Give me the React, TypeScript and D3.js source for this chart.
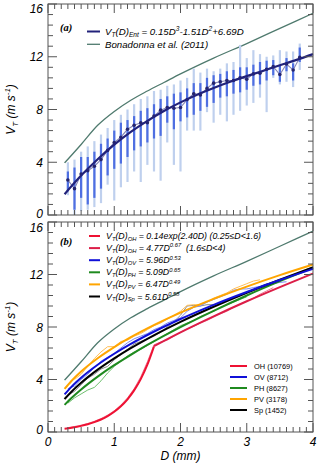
import React from "react";
import * as d3 from "d3";

// ---------- Panel (a) data ----------
const binD = [0.3,0.4,0.5,0.6,0.7,0.8,0.9,1.0,1.1,1.2,1.3,1.4,1.5,1.6,1.7,1.8,1.9,2.0,2.1,2.2,2.3,2.4,2.5,2.6,2.7,2.8,2.9,3.0,3.1,3.2,3.3,3.4,3.5,3.6,3.7,3.8];
const entMean = [2.65,2.0,3.1,3.35,3.7,4.2,4.9,5.5,5.9,6.5,6.8,7.0,7.0,7.5,7.95,8.15,8.1,8.15,8.75,9.2,9.1,9.6,10.0,10.1,10.2,10.2,10.4,10.3,10.7,10.75,11.05,11.25,10.65,11.45,11.0,11.95];
const entInnerLo = [1.8,0.4,1.3,0.8,1.3,2.0,3.0,3.5,3.9,4.4,4.9,5.2,5.5,5.8,6.0,7.0,6.5,7.1,7.4,7.6,7.9,8.2,8.5,8.9,9.0,9.2,9.3,9.5,9.8,9.9,10.2,10.6,10.1,10.9,10.2,11.6];
const entInnerHi = [3.3,3.6,4.4,4.4,4.8,5.4,5.8,6.4,7.0,7.2,7.5,7.9,8.1,8.4,8.8,9.0,9.2,9.3,9.6,10.0,10.0,10.4,10.6,10.7,10.9,11.0,11.2,11.2,11.4,11.6,11.7,11.75,11.3,11.9,11.5,12.7];
const entOuterLo = [1.5,0.0,0.3,0.4,0.6,0.9,2.3,1.1,2.1,2.5,3.3,2.5,3.8,3.3,2.6,5.5,3.8,3.3,6.4,6.4,6.4,7.8,7.0,7.6,7.1,7.6,7.9,8.3,8.5,8.9,7.8,10.4,9.9,10.1,9.7,11.0];
const entOuterHi = [4.0,4.2,4.8,5.2,5.6,6.1,6.6,7.2,7.6,8.0,8.4,8.8,9.0,9.4,9.5,9.8,9.9,10.2,10.4,11.1,10.8,11.1,10.9,11.1,11.5,11.6,12.9,11.9,12.5,12.2,12.0,12.1,12.5,12.4,12.4,13.0];

const fitEntD = [0.25,0.5,0.75,1.0,1.25,1.5,1.75,2.0,2.25,2.5,2.75,3.0,3.25,3.5,3.75,4.0];
const fitEntV = [1.58,2.99,4.23,5.33,6.30,7.14,7.89,8.54,9.12,9.63,10.10,10.53,10.94,11.35,11.76,12.20];

const bonD = [0.25,0.5,0.75,1.0,1.25,1.5,1.75,2.0,2.5,3.0,3.5,4.0];
const bonV = [3.95,5.35,6.8,7.85,8.7,9.4,10.05,10.7,11.9,13.0,14.15,15.3];

// ---------- Panel (b) data ----------
const powD = [0.25,0.35,0.5,0.75,1.0,1.25,1.5,2.0,2.5,3.0,3.5,4.0];
const fitOV = [2.86,3.42,4.13,5.12,5.96,6.71,7.39,8.61,9.69,10.67,11.58,12.43];
const fitPH = [2.07,2.57,3.24,4.22,5.09,5.88,6.63,7.99,9.23,10.40,11.49,12.53];
const fitPV = [3.28,3.87,4.61,5.62,6.47,7.22,7.89,9.09,10.14,11.08,11.95,12.76];
const fitSp = [2.51,3.05,3.75,4.75,5.61,6.39,7.10,8.39,9.54,10.61,11.60,12.54];
const ohExpD = [0.25,0.4,0.5,0.6,0.7,0.8,0.9,1.0,1.1,1.2,1.3,1.4,1.5,1.6];
const ohExpV = [0.255,0.366,0.465,0.591,0.751,0.955,1.214,1.543,1.962,2.494,3.171,4.031,5.124,6.514];
const ohPowD = [1.6,2.0,2.5,3.0,3.5,4.0];
const ohPowV = [6.54,7.59,8.81,9.96,11.04,12.08];

const ohDataD = [0.3,0.4,0.5,0.6,0.7,0.8,0.9,1.0,1.1,1.2,1.3,1.4,1.5,1.6,1.7,1.8,1.9,2.0,2.1,2.2,2.3,2.4,2.5,2.6,2.7,2.8,2.9,3.0,3.1,3.2,3.3,3.4];
const ohDataV = [0.33,0.42,0.52,0.65,0.82,1.02,1.29,1.62,2.05,2.6,3.3,4.2,5.35,6.65,6.85,7.0,7.3,7.6,7.85,8.05,8.3,8.5,8.75,9.0,9.2,9.5,9.75,9.95,10.2,10.5,10.75,11.0];
const ovDataD = [0.3,0.4,0.5,0.6,0.7,0.8,0.9,1.0,1.1,1.2,1.3,1.4,1.5,1.6,1.7,1.8,1.9,2.0,2.1,2.2,2.3,2.4,2.5,2.6,2.7,2.8,2.9,3.0,3.1,3.2,3.3,3.4,3.5,3.6];
const ovDataV = [3.3,3.5,4.0,4.4,4.9,5.4,5.7,6.0,6.4,6.8,7.1,7.3,7.5,7.8,8.0,8.3,8.5,8.7,9.2,9.5,9.6,9.9,10.1,10.3,10.5,10.8,10.9,10.9,11.0,11.1,11.3,11.3,11.4,11.45];
const pvDataD = [0.4,0.5,0.6,0.7,0.8,0.9,1.0,1.1,1.2,1.3,1.4,1.5,1.6,1.7,1.8,1.9,2.0,2.1,2.2,2.3,2.4,2.5,2.6,2.7,2.8,2.9,3.0,3.1,3.2];
const pvDataV = [4.0,4.4,5.0,5.6,6.1,6.5,6.5,6.9,7.0,7.3,7.5,7.8,8.1,8.3,8.6,8.9,9.2,9.65,9.7,9.7,9.9,10.2,10.4,10.6,10.9,11.1,11.3,11.5,11.6];
const phDataD = [0.3,0.4,0.5,0.6,0.7,0.8,0.9,1.0,1.1,1.2,1.3,1.4,1.5,1.6,1.7,1.8,1.9,2.0,2.1,2.2,2.3,2.4,2.5,2.6,2.7,2.8,2.9,3.0];
const phDataV = [2.2,2.6,2.9,3.2,3.4,3.9,4.5,5.0,5.4,5.8,6.1,6.3,6.6,6.9,7.2,7.5,7.8,8.1,8.3,8.5,8.8,9.0,9.2,9.5,9.7,9.9,10.1,10.3];
const spDataD = [0.3,0.4,0.5,0.6,0.7,0.8,0.9,1.0,1.1,1.2,1.3,1.4,1.5,1.6,1.7,1.8,1.9,2.0,2.1,2.2,2.3,2.4,2.5];
const spDataV = [2.8,3.1,3.6,4.1,4.4,4.8,5.0,5.5,5.9,6.3,6.7,6.9,7.1,7.3,7.6,8.0,8.4,8.9,9.6,9.65,9.6,9.7,9.7];

const xTickLabels = ["0","1","2","3","4"];
const yTickLabels = ["0","4","8","12","16"];
const classNames = ["OH (10769)","OV (8712)","PH (8627)","PV (3178)","Sp (1452)"];
const classColors = ["#ee1133","#1010d8","#1f8a1f","#ffa500","#000000"];

const SANS = "'Liberation Sans', Arial, Helvetica, sans-serif";
const FRAME = "#555";
const BON = "#4f7a6e";

type Part = [string, "n" | "sub" | "sup"];

function Rich({ x, y, parts, size, italic = true, anchor = "start", transform, small = 0.66, subShift = 0.28 }: any) {
  let cur = 0;
  return (
    <text x={x} y={y} fontSize={size} fontFamily={SANS} fontStyle={italic ? "italic" : "normal"}
      textAnchor={anchor} transform={transform} style={{ whiteSpace: "pre" }} fill="#000">
      {(parts as Part[]).map(([t, k], i) => {
        const target = k === "sub" ? size * subShift : k === "sup" ? -size * 0.42 : 0;
        const dy = target - cur;
        cur = target;
        return (
          <tspan key={i} dy={dy} fontSize={k === "n" ? size : size * small}>{t}</tspan>
        );
      })}
    </text>
  );
}

const x = d3.scaleLinear().domain([0, 4]).range([48, 313]);
const yA = d3.scaleLinear().domain([0, 16]).range([215, 4]);
const yB = d3.scaleLinear().domain([0, 16]).range([432, 222]);

function Frame({ y }: { y: d3.ScaleLinear<number, number> }) {
  const [x0, x1] = x.range();
  const y0 = y(0), y1 = y(16);
  const xt = d3.range(0, 41).map((i) => ({ v: i / 10, major: i % 10 === 0 }));
  const yt = d3.range(0, 21).map((i) => ({ v: i * 0.8, major: i % 5 === 0 }));
  return (
    <g stroke={FRAME} strokeWidth={1} fill="none">
      <rect x={x0} y={y1} width={x1 - x0} height={y0 - y1} />
      {xt.map((t, i) => {
        const len = t.major ? 9 : 5;
        return (
          <g key={"x" + i}>
            <line x1={x(t.v)} x2={x(t.v)} y1={y0} y2={y0 - len} />
            <line x1={x(t.v)} x2={x(t.v)} y1={y1} y2={y1 + len} />
          </g>
        );
      })}
      {yt.map((t, i) => {
        const len = t.major ? 9 : 5;
        return (
          <g key={"y" + i}>
            <line x1={x0} x2={x0 + len} y1={y(t.v)} y2={y(t.v)} />
            <line x1={x1} x2={x1 - len} y1={y(t.v)} y2={y(t.v)} />
          </g>
        );
      })}
    </g>
  );
}

function YLabels({ y, topShift, bottomShift }: { y: d3.ScaleLinear<number, number>; topShift: number; bottomShift: number }) {
  return (
    <g>
      {yTickLabels.map((l) => {
        const v = +l;
        const dy = v === 16 ? topShift : v === 0 ? bottomShift : 4.5;
        return (
          <text key={l} x={43} y={y(v) + dy} textAnchor="end" fontSize={12} fontStyle="italic" fontFamily={SANS}>{l}</text>
        );
      })}
      <Rich x={0} y={0} size={12} anchor="middle"
        transform={`translate(15,${(y(0) + y(16)) / 2}) rotate(-90)`}
        parts={[["V", "n"], ["T", "sub"], [" (m s", "n"], ["-1", "sup"], [")", "n"]]} />
    </g>
  );
}

function pathOf(ds: number[], vs: number[], y: d3.ScaleLinear<number, number>, curve: any = d3.curveMonotoneX) {
  const pts = ds.map((d, i) => [d, vs[i]] as [number, number]);
  return d3.line<[number, number]>().x((p) => x(p[0])).y((p) => y(p[1])).curve(curve)(pts) || "";
}

export default function App() {
  const lineA = pathOf(binD, entMean, yA, d3.curveLinear);
  return (
    <svg width={320} height={464} style={{ position: "absolute", left: 0, top: 0, background: "#fff" }}>
      {/* ---------------- Panel (a) ---------------- */}
      <g>
        <path d={pathOf(bonD, bonV, yA)} stroke={BON} strokeWidth={1.3} fill="none" />
        {binD.map((d, i) => (
          <line key={"o" + i} x1={x(d)} x2={x(d)} y1={yA(entOuterLo[i])} y2={yA(entOuterHi[i])} stroke="#bfd0ee" strokeWidth={2.2} />
        ))}
        {binD.map((d, i) => (
          <line key={"n" + i} x1={x(d)} x2={x(d)} y1={yA(entInnerLo[i])} y2={yA(entInnerHi[i])} stroke="#4f6fe2" strokeWidth={2.2} />
        ))}
        <path d={lineA} stroke="#8585b5" strokeWidth={1.1} fill="none" />
        {binD.map((d, i) => (
          <circle key={"c" + i} cx={x(d)} cy={yA(entMean[i])} r={1.8} fill="#24246e" />
        ))}
        <path d={pathOf(fitEntD, fitEntV, yA)} stroke="#22227a" strokeWidth={2.2} fill="none" />
        <Frame y={yA} />
        <YLabels y={yA} topShift={9} bottomShift={2.5} />
        <text x={60} y={31} fontSize={10.5} fontWeight="bold" fontStyle="italic" fontFamily="'Liberation Serif', 'Times New Roman', serif">(a)</text>
        <line x1={87} x2={100} y1={31.5} y2={31.5} stroke="#22227a" strokeWidth={2} />
        <Rich x={105} y={34.6} size={9.7} small={0.68} subShift={0.22}
          parts={[["V", "n"], ["T", "sub"], ["(D)", "n"], ["Ent", "sub"], [" = 0.15D", "n"], ["3", "sup"], ["-1.51D", "n"], ["2", "sup"], ["+6.69D", "n"]]} />
        <line x1={87} x2={100} y1={44.3} y2={44.3} stroke={BON} strokeWidth={1.3} />
        <Rich x={105} y={47.8} size={9.7} parts={[["Bonadonna et al. (2011)", "n"]]} />
      </g>

      {/* ---------------- Panel (b) ---------------- */}
      <g>
        <path d={pathOf(bonD, bonV, yB)} stroke={BON} strokeWidth={1.3} fill="none" />
        <g fill="none" strokeWidth={1}>
          <path d={pathOf(phDataD, phDataV, yB, d3.curveLinear)} stroke="#6cbf6c" />
          <path d={pathOf(spDataD, spDataV, yB, d3.curveLinear)} stroke="#8a8a8a" />
          <path d={pathOf(pvDataD, pvDataV, yB, d3.curveLinear)} stroke="#ffbe55" />
          <path d={pathOf(ovDataD, ovDataV, yB, d3.curveLinear)} stroke="#7a88f2" />
          <path d={pathOf(ohDataD, ohDataV, yB, d3.curveLinear)} stroke="#f27a95" />
        </g>
        <g fill="none" strokeWidth={2}>
          <path d={pathOf(powD, fitPH, yB)} stroke="#1f8a1f" />
          <path d={pathOf(ohExpD, ohExpV, yB)} stroke="#ee1133" />
          <path d={pathOf(ohPowD, ohPowV, yB)} stroke="#dc1e48" />
          <path d={pathOf(powD, fitSp, yB)} stroke="#000" />
          <path d={pathOf(powD, fitPV, yB)} stroke="#ffa500" />
          <path d={pathOf(powD, fitOV, yB)} stroke="#1010d8" />
        </g>
        <Frame y={yB} />
        <YLabels y={yB} topShift={9.5} bottomShift={1.5} />
        {xTickLabels.map((l) => (
          <text key={l} x={x(+l)} y={446} textAnchor="middle" fontSize={12} fontStyle="italic" fontFamily={SANS}>{l}</text>
        ))}
        <text x={x(2)} y={460} textAnchor="middle" fontSize={12} fontStyle="italic" fontFamily={SANS}>D (mm)</text>
        <text x={60} y={245} fontSize={10.5} fontWeight="bold" fontStyle="italic" fontFamily="'Liberation Serif', 'Times New Roman', serif">(b)</text>
        {[
          { c: "#ee1133", p: [["V", "n"], ["T", "sub"], ["(D)", "n"], ["OH", "sub"], [" = 0.14exp(2.40D) (0.25≤D<1.6)", "n"]] },
          { c: "#dc1e48", p: [["V", "n"], ["T", "sub"], ["(D)", "n"], ["OH", "sub"], [" = 4.77D", "n"], ["0.67", "sup"], ["  (1.6≤D<4)", "n"]] },
          { c: "#1010d8", p: [["V", "n"], ["T", "sub"], ["(D)", "n"], ["OV", "sub"], [" = 5.96D", "n"], ["0.53", "sup"]] },
          { c: "#1f8a1f", p: [["V", "n"], ["T", "sub"], ["(D)", "n"], ["PH", "sub"], [" = 5.09D", "n"], ["0.65", "sup"]] },
          { c: "#ffa500", p: [["V", "n"], ["T", "sub"], ["(D)", "n"], ["PV", "sub"], [" = 6.47D", "n"], ["0.49", "sup"]] },
          { c: "#000", p: [["V", "n"], ["T", "sub"], ["(D)", "n"], ["Sp", "sub"], [" = 5.61D", "n"], ["0.58", "sup"]] },
        ].map((r, i) => (
          <g key={i}>
            <line x1={89} x2={100} y1={236 + i * 12.1} y2={236 + i * 12.1} stroke={r.c} strokeWidth={2} />
            <Rich x={106} y={239 + i * 12.1} size={8.8} small={0.66} subShift={0.22} parts={r.p} />
          </g>
        ))}
        {classNames.map((n, i) => (
          <g key={n}>
            <line x1={230} x2={247} y1={366 + i * 11} y2={366 + i * 11} stroke={classColors[i]} strokeWidth={2} />
            <text x={254} y={368.6 + i * 11} fontSize={7.4} fontFamily={SANS}>{n}</text>
          </g>
        ))}
      </g>
    </svg>
  );
}
